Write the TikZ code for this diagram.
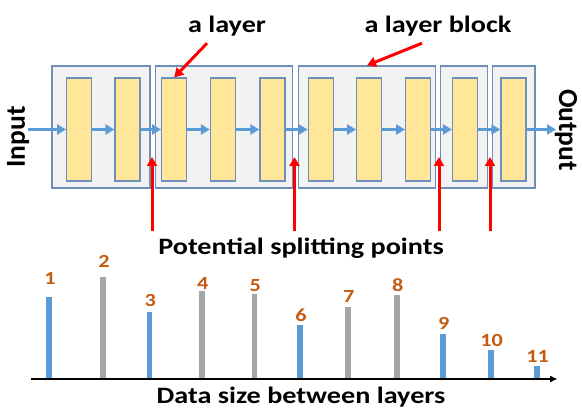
\documentclass[tikz,border=0pt]{standalone}
\usepackage{fontspec}
\setmainfont{Carlito}
\usetikzlibrary{arrows.meta}

\definecolor{flowblue}{HTML}{5B9BD5}
\definecolor{edgeblue}{HTML}{6D8FBA}
\definecolor{blockgray}{HTML}{F2F2F2}
\definecolor{layeryellow}{HTML}{FFE699}
\definecolor{numorange}{HTML}{C55A11}
\definecolor{bargray}{HTML}{A5A5A5}

\newcommand{\wide}[1]{\scalebox{1.2}[1]{#1}}

\tikzset{
  layerbox/.style={draw=edgeblue, line width=1.2pt, fill=layeryellow, minimum width=25pt, minimum height=103pt, inner sep=0pt},
  blockbox/.style={draw=edgeblue, line width=1.2pt, fill=blockgray, minimum height=122pt, inner sep=0pt},
  flow/.style={flowblue, line width=3pt, -{Triangle[length=9pt,width=10pt]}},
  pointer/.style={red, line width=3pt, -{Triangle[length=9pt,width=10pt]}},
  bigtext/.style={font=\bfseries\fontsize{23.5}{28}\selectfont},
  sidetext/.style={font=\bfseries\fontsize{27.5}{32}\selectfont},
  barnum/.style={font=\bfseries\fontsize{18.5}{20}\selectfont, text=numorange, anchor=base},
}

\begin{document}
\begin{tikzpicture}[x=1pt, y=-1pt]
		%%%%% START %%%%%
		\useasboundingbox (0,0) rectangle (582,417);

		% layer blocks
		\node[blockbox, minimum width=98pt] (b1) at (100.9,127) {};
		\node[blockbox, minimum width=137.5pt] (b2) at (223.9,127) {};
		\node[blockbox, minimum width=137.5pt] (b3) at (367,127) {};
		\node[blockbox, minimum width=47.5pt] (b4) at (463.9,127) {};
		\node[blockbox, minimum width=42.5pt] (b5) at (513.7,127) {};

		% layers
		\foreach \i/\x in {1/79.2, 2/127.5, 3/174.2, 4/222.9, 5/272.5, 6/320.8, 7/369.2, 8/418.2, 9/465, 10/513.4}
			\node[layerbox] (l\i) at (\x,129.5) {};

		\coordinate (in) at (28,129.5);
		\coordinate (out) at (556,129.5);
		\draw[flow] (in) -- (l1);
		\foreach \i [evaluate=\i as \j using int(\i+1)] in {1,...,9}
			\draw[flow] (l\i) -- (l\j);
		\draw[flow] (l10) -- (out);

		\node[sidetext, rotate=90] (inp) at (18,137) {Input};
		\node[sidetext, rotate=-90] (outp) at (566,130) {Output};

		% callouts
		\node[bigtext, anchor=base] (lay) at (227,33) {\wide{a layer}};
		\node[bigtext, anchor=base] (blk) at (438,33) {\wide{a layer block}};
		\draw[pointer] ([xshift=-20pt,yshift=-3pt]lay.south) -- (l3.north);
		\draw[pointer] ([xshift=-16pt,yshift=-3pt]blk.south) -- (b3.north);

		% splitting points
		\foreach \k/\x in {1/152, 2/294.5, 3/439, 4/490} {
			\coordinate (s\k) at (\x,231);
			\coordinate (t\k) at (\x,157);
			\draw[pointer] (s\k) -- (t\k);
		}
		\node[bigtext, anchor=base] (split) at (301,255) {\wide{Potential splitting points}};

		% data size chart
		\coordinate (axl) at (31,379);
		\coordinate (axr) at (557,379);
		\foreach \n/\x/\h/\c/\ly in {1/49/297.3/flowblue/285, 2/103/277.3/bargray/268, 3/149.3/311.7/flowblue/307,
				4/201.7/290.7/bargray/290, 5/254.3/294/bargray/291.7, 6/300/325.3/flowblue/321.7,
				7/347.7/306.7/bargray/303, 8/396.7/295/bargray/291.7, 9/442.7/334/flowblue/330,
				10/490.7/350/flowblue/346, 11/536.7/366/flowblue/362.7} {
			\fill[\c] (\x-2.8,379) rectangle (\x+2.8,\h);
			\node[barnum] (n\n) at (\x+1,\ly) {\wide{\n}};
		}
		\draw[line width=1.5pt, -{Triangle[length=7pt,width=6pt]}] (axl) -- (axr);
		\node[bigtext, anchor=base] (dsz) at (301,403) {\wide{Data size between layers}};

		%%%%% END %%%%%
\end{tikzpicture}
\end{document}
